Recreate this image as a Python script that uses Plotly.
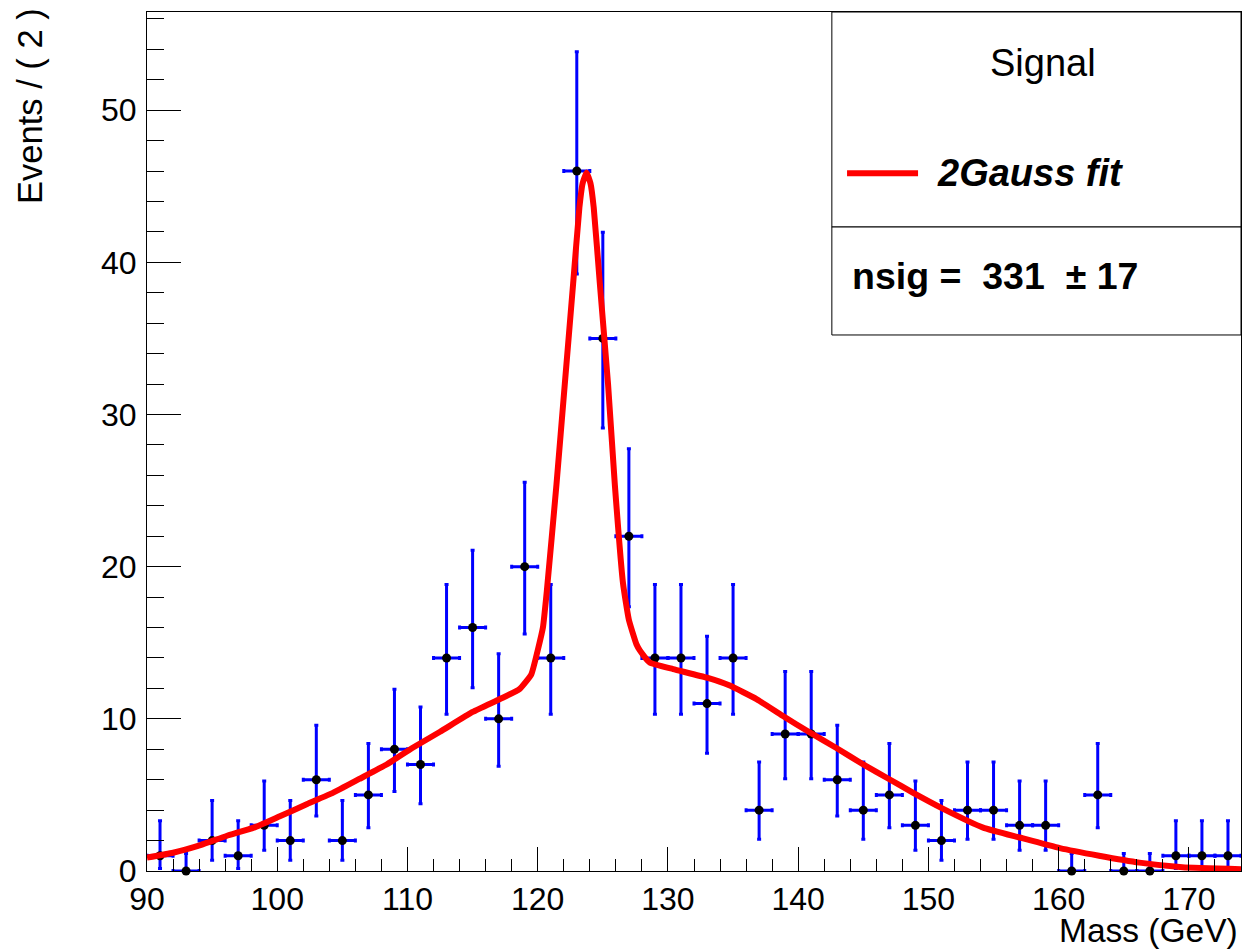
import plotly.graph_objects as go

# ---- data ----
bin_centers = [91, 93, 95, 97, 99, 101, 103, 105, 107, 109, 111, 113, 115, 117, 119,
               121, 123, 125, 127, 129, 131, 133, 135, 137, 139, 141, 143, 145, 147,
               149, 151, 153, 155, 157, 159, 161, 163, 165, 167, 169, 171, 173]
counts = [1, 0, 2, 1, 3, 2, 6, 2, 5, 8, 7, 14, 16, 10, 20,
          14, 46, 35, 22, 14, 14, 11, 14, 4, 9, 9, 6, 4, 5,
          3, 2, 4, 4, 3, 3, 0, 5, 0, 0, 1, 1, 1]
# asymmetric Poisson error bars (lower, upper) as drawn
err_low = [0.83, 0.0, 1.29, 0.83, 1.63, 1.29, 2.38, 1.29, 2.16, 2.77, 2.58, 3.70, 3.96, 3.11, 4.43,
           3.70, 6.76, 5.89, 4.64, 3.70, 3.70, 3.27, 3.70, 1.91, 2.94, 2.94, 2.38, 1.91, 2.16,
           1.63, 1.29, 1.91, 1.91, 1.63, 1.63, 0.0, 2.16, 0.0, 0.0, 0.83, 0.83, 0.83]
err_high = [2.30, 1.15, 2.64, 2.30, 2.92, 2.64, 3.58, 2.64, 3.38, 3.95, 3.77, 4.83, 5.08, 4.27, 5.54,
            4.83, 7.83, 6.97, 5.75, 4.83, 4.83, 4.42, 4.83, 3.16, 4.11, 4.11, 3.58, 3.16, 3.38,
            2.92, 2.64, 3.16, 3.16, 2.92, 2.92, 1.15, 3.38, 1.15, 1.15, 2.30, 2.30, 2.30]
bin_half_width = [1.0] * len(bin_centers)

# fit curve
fit_x = [90.0, 92.0, 94.1, 96.1, 98.2, 100.2, 102.3, 104.3, 106.3, 108.4, 110.4, 112.5,
         115.0, 117.1, 118.6, 119.5, 120.0, 120.4, 120.7, 121.44, 122.08, 122.72,
         123.2, 123.45, 123.75, 124.05, 124.3, 124.77, 125.4, 125.92, 126.55, 127.0,
         127.58, 127.84, 128.6, 130.4, 133.0, 134.7, 136.8, 138.8, 140.9, 142.9, 145.0,
         147.0, 148.8, 151.1, 154.2, 157.0, 160.1, 163.1, 166.2, 169.5, 174.0]
fit_y = [0.88, 1.2, 1.7, 2.3, 2.85, 3.6, 4.4, 5.15, 6.05, 7.0, 8.1, 9.15,
         10.45, 11.3, 11.95, 12.9, 14.5, 16.0, 18.4, 25.4, 32.0, 38.6,
         43.6, 45.2, 45.9, 45.2, 43.6, 38.6, 32.0, 25.4, 18.9, 16.5,
         14.9, 14.5, 13.7, 13.27, 12.7, 12.2, 11.3, 10.2, 9.1, 8.1, 7.0,
         6.03, 5.15, 4.1, 2.85, 2.2, 1.5, 1.0, 0.55, 0.25, 0.12]

FONT = "Liberation Sans, Arial, Helvetica, sans-serif"

fig = go.Figure()
fig.add_trace(go.Scatter(
    x=bin_centers, y=counts, mode="markers",
    marker=dict(color="black", size=9),
    error_y=dict(type="data", symmetric=False, array=err_high, arrayminus=err_low,
                 color="#0000ff", thickness=3, width=2),
    error_x=dict(type="data", array=bin_half_width, color="#0000ff", thickness=3, width=2),
    cliponaxis=False, showlegend=False,
))
fig.add_trace(go.Scatter(
    x=fit_x, y=fit_y, mode="lines",
    line=dict(color="#ff0000", width=6, shape="spline", smoothing=0.4),
    showlegend=False,
))

axis_common = dict(
    showgrid=False, zeroline=False, showline=True, linecolor="black", linewidth=1,
    mirror=True, ticks="inside", tickcolor="black", tickwidth=1,
    tickfont=dict(family=FONT, size=32, color="black"),
)
fig.update_xaxes(range=[90, 174], tick0=0, dtick=10, ticklen=24,
                 minor=dict(dtick=2, ticklen=12, ticks="inside", tickcolor="black", tickwidth=1),
                 **axis_common)
fig.update_yaxes(range=[0, 56.45], tick0=0, dtick=10, ticklen=34, ticklabelstandoff=3,
                 minor=dict(dtick=2, ticklen=17, ticks="inside", tickcolor="black", tickwidth=1),
                 **axis_common)

# legend / stats boxes
fig.add_shape(type="rect", xref="paper", yref="paper", x0=0.626, x1=1.0, y0=0.7497, y1=1.0,
              line=dict(color="black", width=1), fillcolor="white", layer="above")
fig.add_shape(type="rect", xref="paper", yref="paper", x0=0.626, x1=1.0, y0=0.624, y1=0.7497,
              line=dict(color="black", width=1), fillcolor="white", layer="above")
fig.add_shape(type="line", xref="paper", yref="paper", x0=0.6399, x1=0.7048, y0=0.8122, y1=0.8122,
              line=dict(color="#ff0000", width=6), layer="above")

fig.add_annotation(text="Signal", xref="paper", yref="paper", x=0.819, y=0.9406,
                   xanchor="center", yanchor="middle", showarrow=False,
                   font=dict(family=FONT, size=38, color="black"))
fig.add_annotation(text="<b><i>2Gauss fit</i></b>", xref="paper", yref="paper", x=0.7203, y=0.8122,
                   xanchor="left", yanchor="middle", showarrow=False,
                   font=dict(family=FONT, size=38, color="black"))
fig.add_annotation(text="<b>nsig =\u00a0\u00a0331\u00a0\u00a0\u00b1\u00a017</b>", xref="paper", yref="paper",
                   x=0.643, y=0.6927, xanchor="left", yanchor="middle", showarrow=False,
                   font=dict(family=FONT, size=37.5, color="black"))

# axis titles
fig.add_annotation(text="Events / ( 2 )", xref="paper", yref="paper", x=-0.107, y=0.8906,
                   xanchor="center", yanchor="middle", textangle=-90, showarrow=False,
                   font=dict(family=FONT, size=34.5, color="black"))
fig.add_annotation(text="Mass (GeV)", xref="paper", yref="paper", x=0.9985, y=-0.0695,
                   xanchor="right", yanchor="middle", showarrow=False, borderpad=0,
                   font=dict(family=FONT, size=33.5, color="black"))

fig.update_layout(
    width=1243, height=949, autosize=False,
    margin=dict(l=147, r=2, t=12, b=78, pad=0),
    plot_bgcolor="white", paper_bgcolor="white",
)

fig.write_html("out.html")
